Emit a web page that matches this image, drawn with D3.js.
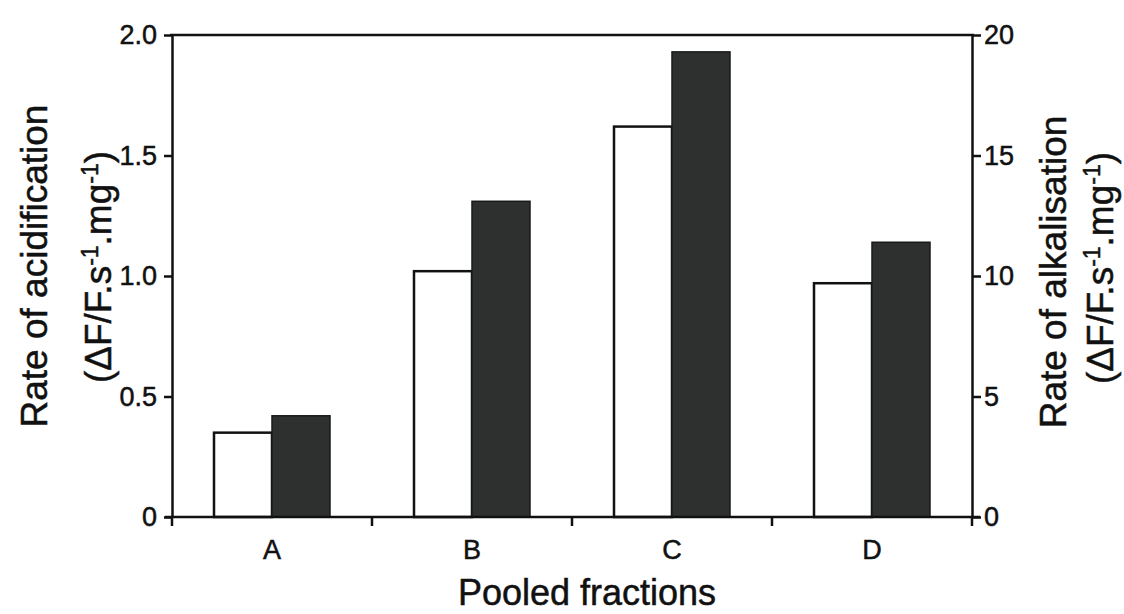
<!DOCTYPE html>
<html>
<head>
<meta charset="utf-8">
<script src="https://cdn.jsdelivr.net/npm/d3@7"></script>
<style>
  html, body { margin: 0; padding: 0; background: #fff; }
  svg { display: block; font-family: "Liberation Sans", Arial, sans-serif; }
  svg text { stroke: #111; stroke-width: 0.5px; }
</style>
</head>
<body>
<svg id="chart" width="1124" height="614"></svg>
<script>
// Pooled fractions and their proton-pumping rates
const fractions = ["A", "B", "C", "D"];
const acidification = [0.35, 1.02, 1.62, 0.97];   // left axis, open bars
const alkalisation = [4.2, 13.1, 19.3, 11.4];     // right axis, filled bars
const leftTicks = [0, 0.5, 1.0, 1.5, 2.0];
const rightTicks = [0, 5, 10, 15, 20];

const svg = d3.select("#chart");
const m = { left: 172, right: 972, top: 35, bottom: 517 };

const x = d3.scaleBand().domain(fractions).range([m.left, m.right]).padding(0);
const yL = d3.scaleLinear().domain([0, 2]).range([m.bottom, m.top]);
const yR = d3.scaleLinear().domain([0, 20]).range([m.bottom, m.top]);

const barW = x.bandwidth() * 0.29;
const ink = "#111";
const lw = 2.5;

// open bars (acidification)
svg.append("g").selectAll("rect")
  .data(fractions)
  .join("rect")
  .attr("x", d => x(d) + x.bandwidth() / 2 - barW)
  .attr("y", (d, i) => yL(acidification[i]))
  .attr("width", barW)
  .attr("height", (d, i) => yL(0) - yL(acidification[i]))
  .attr("fill", "#fff")
  .attr("stroke", ink)
  .attr("stroke-width", lw);

// filled bars (alkalisation)
svg.append("g").selectAll("rect")
  .data(fractions)
  .join("rect")
  .attr("x", d => x(d) + x.bandwidth() / 2)
  .attr("y", (d, i) => yR(alkalisation[i]))
  .attr("width", barW)
  .attr("height", (d, i) => yR(0) - yR(alkalisation[i]))
  .attr("fill", "#2e3030")
  .attr("stroke", "#1a1a1a")
  .attr("stroke-width", 1.5);

// frame top
svg.append("line")
  .attr("x1", m.left - 2).attr("x2", m.right + 2)
  .attr("y1", m.top).attr("y2", m.top)
  .attr("stroke", ink).attr("stroke-width", lw);

// left axis
const gL = svg.append("g").attr("transform", `translate(${m.left},0)`)
  .call(d3.axisLeft(yL).tickValues(leftTicks).tickSize(8).tickSizeOuter(0)
    .tickFormat(d => d === 0 ? "0" : d3.format(".1f")(d)));

// right axis
const gR = svg.append("g").attr("transform", `translate(${m.right},0)`)
  .call(d3.axisRight(yR).tickValues(rightTicks).tickSize(9).tickSizeOuter(0));

// bottom axis: ticks at band boundaries, labels at band centres
const boundaries = fractions.map(d => x(d)).concat([m.right]);
const gB = svg.append("g").attr("transform", `translate(0,${m.bottom})`);
gB.append("line").attr("x1", m.left - 7).attr("x2", m.right + 8)
  .attr("stroke", ink).attr("stroke-width", lw);
gB.selectAll("line.tk").data(boundaries).join("line").attr("class", "tk")
  .attr("x1", d => d).attr("x2", d => d).attr("y1", 0).attr("y2", 9)
  .attr("stroke", ink).attr("stroke-width", lw);
gB.selectAll("text").data(fractions).join("text")
  .attr("x", d => x(d) + x.bandwidth() / 2)
  .attr("y", 42)
  .attr("text-anchor", "middle")
  .attr("font-size", 27)
  .attr("fill", ink)
  .text(d => d);

[gL, gR].forEach(g => {
  g.select(".domain").attr("stroke", ink).attr("stroke-width", lw);
  g.selectAll(".tick line").attr("stroke", ink).attr("stroke-width", lw);
  g.selectAll(".tick text").attr("font-size", 27).attr("fill", ink)
    .attr("font-family", "Liberation Sans, Arial, sans-serif");
});
gL.selectAll(".tick text").attr("x", -15);
gR.selectAll(".tick text").attr("x", 12);

// axis titles
function unitLabel(sel) {
  sel.append("tspan").text("(ΔF/F.s");
  sel.append("tspan").attr("font-size", 23).attr("dy", -13).text("-1");
  sel.append("tspan").attr("dy", 13).text(".mg");
  sel.append("tspan").attr("font-size", 23).attr("dy", -13).text("-1");
  sel.append("tspan").attr("dy", 13).text(")");
}

svg.append("text")
  .attr("transform", "translate(47,266) rotate(-90)")
  .attr("text-anchor", "middle").attr("font-size", 37).attr("fill", ink)
  .text("Rate of acidification");
unitLabel(svg.append("text")
  .attr("transform", "translate(111,267) rotate(-90)")
  .attr("text-anchor", "middle").attr("font-size", 37).attr("fill", ink));

svg.append("text")
  .attr("transform", "translate(1066,272) rotate(-90)")
  .attr("text-anchor", "middle").attr("font-size", 37).attr("fill", ink)
  .text("Rate of alkalisation");
unitLabel(svg.append("text")
  .attr("transform", "translate(1113,268) rotate(-90)")
  .attr("text-anchor", "middle").attr("font-size", 37).attr("fill", ink));

svg.append("text")
  .attr("x", 587).attr("y", 605)
  .attr("text-anchor", "middle").attr("font-size", 36).attr("fill", ink)
  .text("Pooled fractions");
</script>
</body>
</html>
